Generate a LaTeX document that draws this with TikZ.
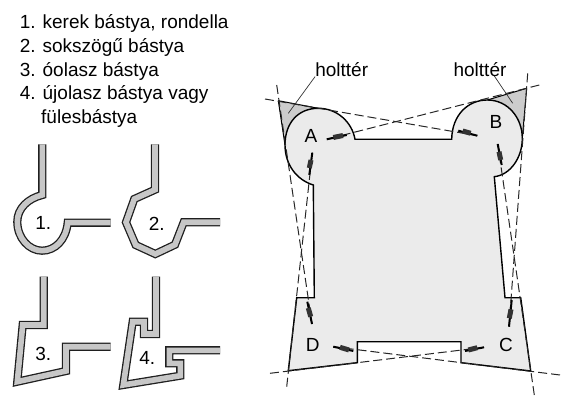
\documentclass[tikz,border=0pt]{standalone}
\usepackage{fontspec}
\setmainfont{Liberation Sans}
\begin{document}
\begin{tikzpicture}[x=1pt,y=-1pt]
    \tikzstyle{wall}=[line width=1.3pt, draw=black!88, double=black!22, double distance=5.6pt]
    \tikzstyle{outline}=[draw=black, line width=1.4pt, fill=black!8]
    \tikzstyle{dead}=[fill=black!20]
    \tikzstyle{sight}=[dash pattern=on 9pt off 4pt, line width=1pt, black!85]
    \tikzstyle{barrel}=[line width=2pt, black]
    \tikzstyle{carriage}=[line width=5pt, black!80]
    \tikzstyle{txt}=[inner sep=0pt, font=\fontsize{19}{19}\selectfont]
    \tikzstyle{item}=[txt, anchor=base west]

    \useasboundingbox (0,0) rectangle (569,411);

    % list
    \node[item] (l1) at (19.6,28.8) {1. kerek bástya, rondella};
    \node[item] (l2) at (19.6,52.5) {2. sokszögű bástya};
    \node[item] (l3) at (19.6,76.5) {3. óolasz bástya};
    \node[item] (l4) at (19.6,100) {4. újolasz bástya vagy};
    \node[item] (l5) at (41,124) {fülesbástya};

    % small walls
    \draw[wall] (42.3,144.3) -- (42.3,195) .. controls (28.3,198.3) and (17.3,208.3) .. (17.3,221.7)
        .. controls (17.3,238.3) and (29.3,250.7) .. (42,250.7)
        .. controls (55,250.7) and (66,240) .. (67.7,222.7) -- (110.7,222.7);
    \draw[wall] (155,144.3) -- (155,189.7) -- (134.3,199) -- (126,222.3) -- (135.7,245) -- (155.3,254)
        -- (175,244.7) -- (183.7,222.3) -- (220,222.3);
    \draw[wall] (43.7,276.7) -- (43.7,325) -- (22.7,325) -- (17.3,381.7) -- (66,371) -- (66,346.7) -- (110.7,346.7);
    \draw[wall] (156,276.7) -- (156,334) -- (144,334) -- (144,321.7) -- (132.7,321.7) -- (123.3,385)
        -- (180.3,375.7) -- (180.3,363.3) -- (169.3,363.3) -- (169.3,350.3) -- (220,350.3);

    \node[txt] (n1) at (43.3,223.3) {1.};
    \node[txt] (n2) at (156.7,224) {2.};
    \node[txt] (n3) at (43.3,354.3) {3.};
    \node[txt] (n4) at (147.3,358.3) {4.};

    % dead ground
    \fill[dead] (278.3,100.7) -- (318.3,108.3) -- (300,113.3) -- (289.3,125) -- (285,145) -- cycle;
    \fill[dead] (526.7,88.3) -- (487.3,100) -- (503.3,105) -- (516.7,120) -- (522.3,138.3) -- cycle;

    % fortress
    \draw[outline] (355,139.3) -- (451.7,139.3)
        .. controls (452,115) and (468,100) .. (487.3,100)
        .. controls (508,100) and (522.3,118) .. (522.3,138.3)
        .. controls (522.3,158) and (510,175) .. (494.3,176.7)
        -- (505,297.7) -- (520.7,297.7) -- (530.7,371) -- (461,362.7) -- (461,341.7)
        -- (357.3,341.7) -- (357.3,362.7) -- (288.3,370.7) -- (296.7,297.7) -- (314.3,297.7)
        -- (313.3,185)
        .. controls (297,180) and (285,165) .. (285,145)
        .. controls (285,123) and (298,108.3) .. (318.3,108.3)
        .. controls (337,108.3) and (352,122) .. (355,139.3) -- cycle;
    \draw[line width=1pt] (278.3,100.7) -- (318.3,108.3);
    \draw[line width=1pt] (278.3,100.7) -- (285,145);
    \draw[line width=1pt] (526.7,88.3) -- (487.3,100);
    \draw[line width=1pt] (526.7,88.3) -- (522.3,138.3);

    % guns
    \coordinate (ar) at (326.7,139.3);
    \coordinate (ad) at (312.3,152.7);
    \coordinate (bl) at (477.3,135.7);
    \coordinate (bd) at (497.7,144);
    \coordinate (du) at (312,324);
    \coordinate (dr) at (333.3,346.7);
    \coordinate (cu) at (509,326.7);
    \coordinate (cl) at (484,347.3);

    \coordinate (ta) at (265,99);
    \coordinate (tb) at (539.3,85);
    \coordinate (la) at (276.7,85);
    \coordinate (ld) at (286.7,386.7);
    \coordinate (rb) at (527.7,73.3);
    \coordinate (rc) at (534.3,395);
    \coordinate (bd2) at (270,373.3);
    \coordinate (bc2) at (560,375);

    \draw[sight] (ta) -- (bl);
    \draw[sight] (tb) -- (ar);
    \draw[sight] (la) -- (du);
    \draw[sight] (ld) -- (ad);
    \draw[sight] (rb) -- (cu);
    \draw[sight] (rc) -- (bd);
    \draw[sight] (bd2) -- (cl);
    \draw[sight] (bc2) -- (dr);

    \draw[barrel] (ar) -- (346.7,135);
    \draw[carriage] (333.3,137.5) -- (343,135.5);
    \draw[barrel] (ad) -- (309.3,175);
    \draw[carriage] (311,160) -- (309.3,168);
    \draw[barrel] (bl) -- (458.3,130.7);
    \draw[carriage] (470.7,133.3) -- (462.7,131);
    \draw[barrel] (bd) -- (501.7,165);
    \draw[carriage] (499,151.7) -- (500.7,160);
    \draw[barrel] (du) -- (307.3,301.7);
    \draw[carriage] (308.3,308) -- (310.7,316.7);
    \draw[barrel] (dr) -- (353.3,351);
    \draw[carriage] (340,347.3) -- (349,350);
    \draw[barrel] (cu) -- (511.7,300);
    \draw[carriage] (511,309.3) -- (509.3,318.3);
    \draw[barrel] (cl) -- (465,351);
    \draw[carriage] (477.3,347.7) -- (468.3,350);

    % labels
    \node[txt] (A) at (311,136) {A};
    \node[txt] (B) at (496,121.7) {B};
    \node[txt] (C) at (506,345) {C};
    \node[txt] (D) at (312.7,345) {D};

    \node[txt] (h1) at (341.7,69.3) {holttér};
    \node[txt] (h2) at (480,69.3) {holttér};
    \coordinate (p1) at (288.3,113.3);
    \coordinate (p2) at (512.7,103.3);
    \coordinate (q2) at (494.3,76);
    \draw[line width=0.7pt, black!80] (h1.south west) -- (p1);
    \draw[line width=0.7pt, black!80] (q2) -- (p2);
\end{tikzpicture}
\end{document}
